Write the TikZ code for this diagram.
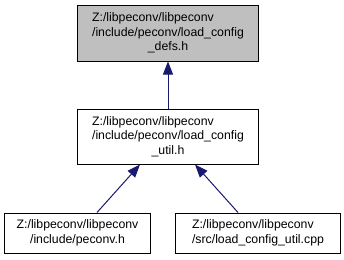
\documentclass[tikz,border=0pt]{standalone}
\usepackage{fontspec}
\setmainfont{Liberation Sans}
\usetikzlibrary{arrows.meta}
\definecolor{midnight}{RGB}{25,25,112}
\definecolor{grey75}{RGB}{191,191,191}
\tikzset{>={Triangle[length=13bp,width=10bp]},every node/.style={font=\fontsize{12.3bp}{14.5bp}\selectfont},
  filebox/.style={draw=black,line width=1bp,align=center,inner sep=0pt,minimum width=#1},dep/.style={midnight,line width=1bp,<-}}

\begin{document}
\begin{tikzpicture}[x=1bp,y=-1bp]
\useasboundingbox (0,0) rectangle (344,260);
% include files, top to bottom
\node[filebox=180bp,minimum height=56bp,fill=grey75] (defs) at (168,33) {\rlap{Z:/libpeconv/libpeconv}\phantom{/include/peconv/load\_config}\\/include/peconv/load\_config\\\_defs.h};
\node[filebox=180bp,minimum height=55bp] (util) at (168,136.5) {\rlap{Z:/libpeconv/libpeconv}\phantom{/include/peconv/load\_config}\\/include/peconv/load\_config\\\_util.h};
\node[filebox=145bp,minimum height=40bp] (peconvh) at (77.5,233) {Z:/libpeconv/libpeconv\\/include/peconv.h};
\node[filebox=164bp,minimum height=40bp] (utilcpp) at (258,233) {\rlap{Z:/libpeconv/libpeconv}\phantom{/src/load\_config\_util.cpp}\\/src/load\_config\_util.cpp};
\draw[dep] (defs.south) -- (util.north);
\draw[dep] ([xshift=-28bp]util.south) -- ([xshift=19.5bp]peconvh.north);
\draw[dep] ([xshift=27bp]util.south) -- ([xshift=-20bp]utilcpp.north);
\end{tikzpicture}
\end{document}
